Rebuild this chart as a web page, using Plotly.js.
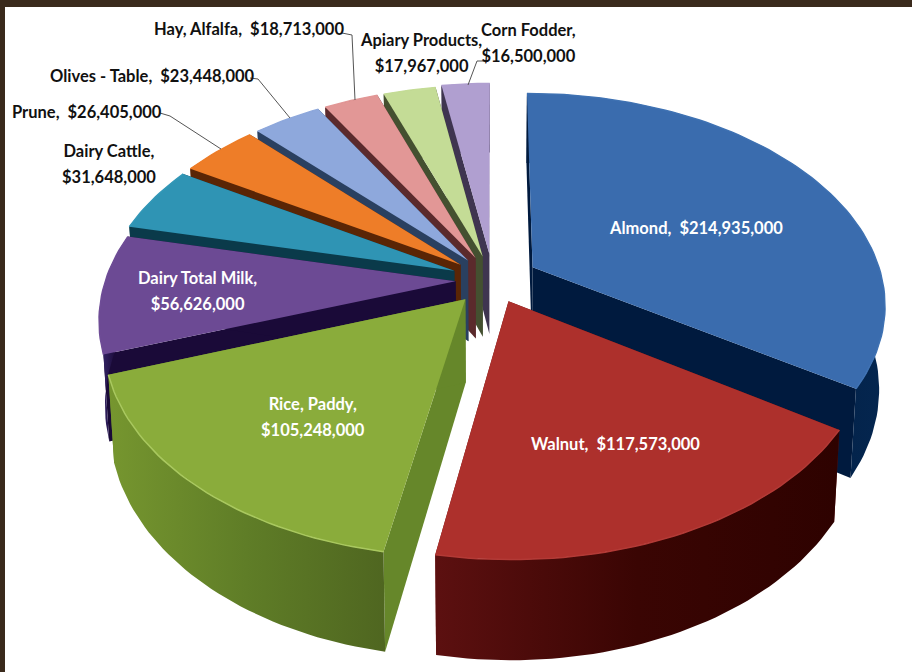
<!DOCTYPE html>
<html>
<head>
<meta charset="utf-8">
<script src="https://cdn.plot.ly/plotly-3.0.1.min.js"></script>
<style>html,body{margin:0;padding:0;background:#3a2a1c;overflow:hidden}</style>
</head>
<body>
<div id="chart" style="width:912px;height:672px"></div>
<script>
// ---- data ----
const categories = ["Almond","Walnut","Rice, Paddy","Dairy Total Milk","Dairy Cattle","Prune","Olives - Table","Hay, Alfalfa","Apiary Products","Corn Fodder"];
const values = [214935000,117573000,105248000,56626000,31648000,26405000,23448000,18713000,17967000,16500000];
const twoLineLabel = [false,false,true,true,true,false,false,false,true,true];

// ---- styling and layout ----
const topColors = ["#3a6cae","#ad302c","#8aac3b","#6c4a94","#2f94b4","#ee7d28","#8ea8dc","#e29796","#c4dc96","#b09fd0"];
const rimColors = ["#3f72b3","#b33a36","#a9c85f","#6f4d97","#3398b8","#ee7d28","#8ea8dc","#e29796","#c4dc96","#b09fd0"];
const cutColors = ["#001a3e","#6a1111","#66872a","#1a0a38","#0a3a4a","#5a2505","#2a4060","#5b2a2c","#445030","#3f3550"];
const wallColors = [
  ["#001a3e","#001a3e","#04264f"],
  ["#5c1010","#3a0503","#2e0200"],
  ["#76962f","#5f7d27","#4f6620"],
  ["#3a2a70","#1a0a38","#1a0a38"],
  ["#0a3a4a","#0a3a4a","#0a3a4a"],
  ["#5a2505","#5a2505","#5a2505"],
  ["#2a4060","#2a4060","#2a4060"],
  ["#5b2a2c","#5b2a2c","#5b2a2c"],
  ["#445030","#445030","#445030"],
  ["#3f3550","#3f3550","#3f3550"]
];
const pulls = [0.13,0.11,0.12,0.107,0.12,0.12,0.12,0.12,0.12,0.13];
const drawOrder = [9,8,7,6,5,4,3,0,2,1];
const labelPos = [[696,228],[615,444],[313,417],[197,291],[109,164],[87,112],[152,76],[249,29],[421,53],[528,43]];
const labelColor = ["#fff","#fff","#fff","#fff","#111","#111","#111","#111","#111","#111"];
const leaders = [
  "M160,113 L170,116 L221,149",
  "M250,78 L258,79 L290,118",
  "M342,33 L352,35 L355,100",
  "M487,61 L477,61 L468,85"
];

// projection of the tilted pie plane
const X0=493, Y0=280, A=350, B=207, C=0.168, DEPTH=82, SHRINK=0.985;
function project(u,v,h){
  const s=1/(1-C*v);
  let x=X0+A*u*s, y=Y0+B*v*s;
  if(h){ y+=DEPTH*s; x=X0+(x-X0)*SHRINK; }
  return [x,y];
}
function poly(points,color,extra){
  return Object.assign({type:"scatter",mode:"lines",x:points.map(p=>p[0]),y:points.map(p=>p[1]),
    fill:"toself",fillcolor:color,line:{width:0,color:color},hoverinfo:"skip",showlegend:false},extra||{});
}
const total=values.reduce((a,b)=>a+b,0);
let acc=0;
const slices=values.map((val,i)=>{
  const a1=acc/total*2*Math.PI; acc+=val; const a2=acc/total*2*Math.PI;
  return {i,a1,a2,mid:(a1+a2)/2};
});
const traces=[];
drawOrder.forEach(idx=>{
  const sl=slices[idx];
  const cu=pulls[idx]*Math.sin(sl.mid), cv=-pulls[idx]*Math.cos(sl.mid);
  const n=Math.max(8,Math.ceil((sl.a2-sl.a1)*40));
  const arc=[];
  for(let k=0;k<=n;k++){
    const t=sl.a1+(sl.a2-sl.a1)*k/n;
    arc.push([cu+Math.sin(t),cv-Math.cos(t)]);
  }
  const P=(q,h)=>project(q[0],q[1],h);
  const apex=[cu,cv], first=arc[0], last=arc[n];
  // cut faces
  traces.push(poly([P(apex,0),P(first,0),P(first,1),P(apex,1)],cutColors[idx]));
  traces.push(poly([P(apex,0),P(last,0),P(last,1),P(apex,1)],cutColors[idx]));
  // outer wall
  const wall=arc.map(q=>P(q,0)).concat(arc.slice().reverse().map(q=>P(q,1)));
  const w=wallColors[idx];
  traces.push(poly(wall,w[1],{fillgradient:{type:"horizontal",colorscale:[[0,w[0]],[0.5,w[1]],[1,w[2]]]}}));
  // top face
  const topFace=[P(apex,0)].concat(arc.map(q=>P(q,0)));
  traces.push(poly(topFace,topColors[idx],{name:categories[idx],
    hoverinfo:"text",hoverlabel:{namelength:-1},text:categories[idx]+": $"+values[idx].toLocaleString("en-US")}));
  // lit rim
  traces.push({type:"scatter",mode:"lines",x:arc.map(q=>P(q,0)[0]),y:arc.map(q=>P(q,0)[1]),
    line:{color:rimColors[idx],width:1.5},hoverinfo:"skip",showlegend:false});
});

const annotations=categories.map((c,i)=>{
  const money="$"+values[i].toLocaleString("en-US");
  const t=twoLineLabel[i]
    ? '<span style="font-size:16.5px">'+c+',</span><br><span style="font-size:16.5px">'+money+'</span>'
    : '<span style="font-size:16.5px">'+c+', &nbsp;'+money+'</span>';
  return {x:labelPos[i][0],y:labelPos[i][1],xref:"x",yref:"y",text:t,showarrow:false,
    xanchor:"center",yanchor:"middle",align:"center",
    font:{family:"Lato, sans-serif",size:20,color:labelColor[i],weight:"bold"}};
});

const layout={
  width:912,height:672,autosize:false,
  margin:{l:5,r:0,t:7,b:0,pad:0},
  paper_bgcolor:"#3a2a1c",plot_bgcolor:"#ffffff",
  showlegend:false,hovermode:"closest",
  xaxis:{range:[5,912],visible:false,fixedrange:true},
  yaxis:{range:[672,7],visible:false,fixedrange:true},
  annotations:annotations,
  shapes:leaders.map(p=>({type:"path",path:p,xref:"x",yref:"y",line:{color:"#555",width:1}}))
};
Plotly.newPlot("chart",traces,layout,{displayModeBar:false});
</script>
</body>
</html>
